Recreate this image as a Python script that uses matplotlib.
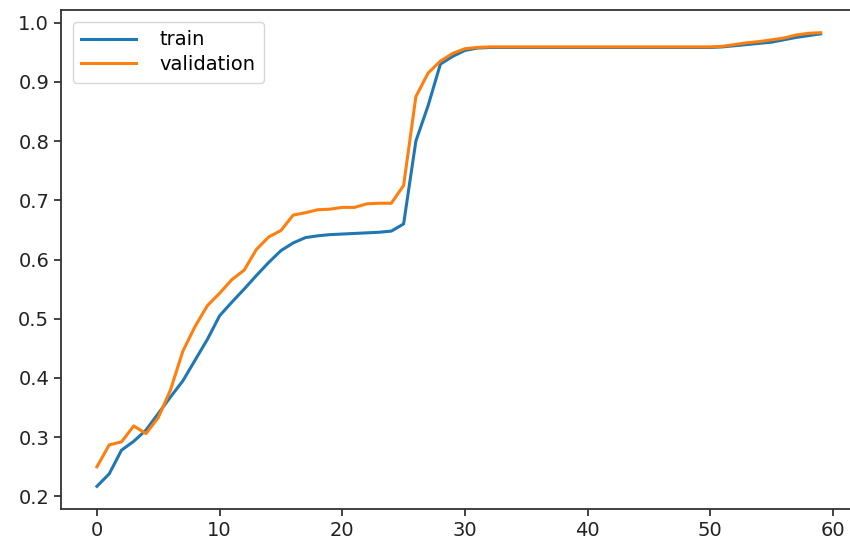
import numpy as np
import matplotlib
matplotlib.use("Agg")
import matplotlib.pyplot as plt

# ---------- data ----------
epochs = list(range(60))

train = [0.217, 0.238, 0.278, 0.293, 0.312, 0.340, 0.368, 0.395, 0.430, 0.465,
         0.505, 0.528, 0.550, 0.573, 0.595, 0.615, 0.628, 0.637, 0.640, 0.642,
         0.643, 0.644, 0.645, 0.646, 0.648, 0.660, 0.800, 0.860, 0.930, 0.943,
         0.953, 0.957, 0.958, 0.958, 0.958, 0.958, 0.958, 0.958, 0.958, 0.958,
         0.958, 0.958, 0.958, 0.958, 0.958, 0.958, 0.958, 0.958, 0.958, 0.958,
         0.958, 0.959, 0.961, 0.963, 0.965, 0.967, 0.971, 0.975, 0.978, 0.981]

validation = [0.250, 0.287, 0.292, 0.319, 0.306, 0.333, 0.380, 0.445, 0.487, 0.522,
              0.543, 0.566, 0.582, 0.617, 0.638, 0.649, 0.675, 0.679, 0.684, 0.685,
              0.688, 0.688, 0.694, 0.695, 0.695, 0.725, 0.875, 0.915, 0.935, 0.948,
              0.956, 0.958, 0.959, 0.959, 0.959, 0.959, 0.959, 0.959, 0.959, 0.959,
              0.959, 0.959, 0.959, 0.959, 0.959, 0.959, 0.959, 0.959, 0.959, 0.959,
              0.959, 0.960, 0.963, 0.966, 0.968, 0.971, 0.974, 0.979, 0.982, 0.983]

# ---------- figure ----------
# the reference is a cropped screenshot: the right spine falls outside the image
W, H = 850, 540
left_px, right_px, bottom_px, top_px = 61, 875, 509, 10
fig = plt.figure(figsize=(W / 100, H / 100), dpi=100)
ax = fig.add_axes([left_px / W, 1 - bottom_px / H,
                   (right_px - left_px) / W, (bottom_px - top_px) / H])

ax.plot(epochs, train, color="#1f77b4", lw=2.2, label="train")
ax.plot(epochs, validation, color="#ff7f0e", lw=2.2, label="validation")

px_per_unit = (833 - 97) / 60.0
ax.set_xlim(-2.93, -2.93 + (right_px - left_px) / px_per_unit)
ax.set_ylim(0.1787, 1.0213)
ax.set_xticks([0, 10, 20, 30, 40, 50, 60])
ax.set_yticks([0.2, 0.3, 0.4, 0.5, 0.6, 0.7, 0.8, 0.9, 1.0])
ax.tick_params(labelsize=14, length=5, width=1.2, colors="#222222")
for s in ax.spines.values():
    s.set_linewidth(1.3)
    s.set_color("#333333")
ax.spines["right"].set_visible(False)

ax.legend(loc="upper left", fontsize=14, handlelength=2.8, borderpad=0.45,
          labelspacing=0.3, handletextpad=1.2, borderaxespad=0.6)

fig.savefig("out.png", dpi=100)
